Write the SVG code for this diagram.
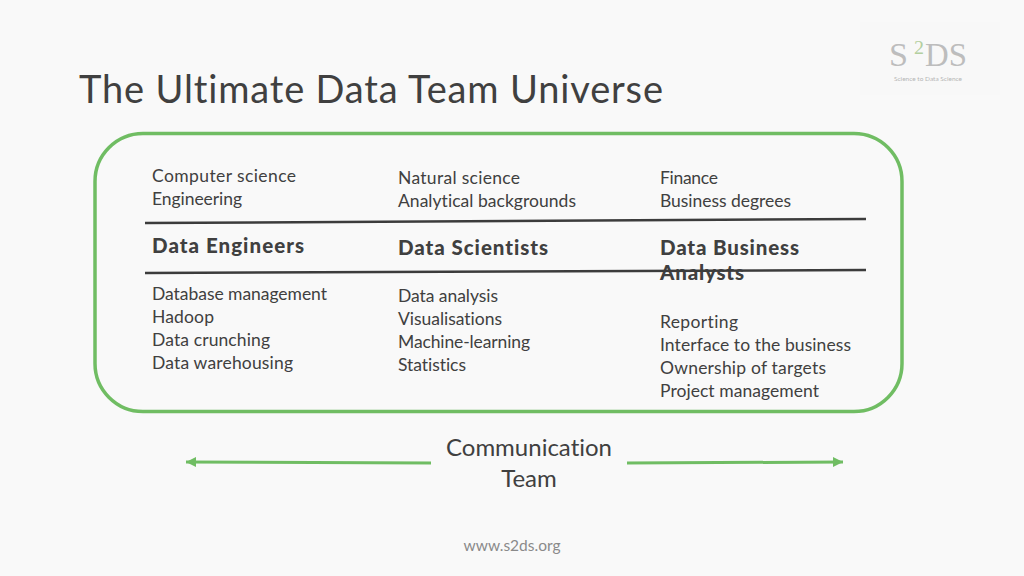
<svg xmlns="http://www.w3.org/2000/svg" width="1024" height="576" viewBox="0 0 1024 576">
<style>
text{font-family:Lato,"Open Sans","Liberation Sans",sans-serif;fill:#404040;font-variant-ligatures:none}
.b{font-size:17.500px}
.h{font-size:20.500px;font-weight:900}
.g{stroke:#70bd63;fill:none;stroke-linecap:butt}
.d{stroke:#3c3c3c;stroke-width:2.500;fill:none}
.l{font-family:"Liberation Serif",serif;font-size:34px;fill:#bdbdbd}
</style>
<defs>
<marker id="ah" markerUnits="userSpaceOnUse" markerWidth="11" markerHeight="11" refX="10" refY="5.500" orient="auto"><path d="M0 0.500L10 5.500L0 10.500Z" fill="#70bd63"/></marker>
</defs>
<rect width="1024" height="576" fill="#f9f9f9"/>
<g id="logo">
<rect x="860" y="22" width="140" height="73" fill="#f8f8f8"/>
<text class="l" x="889" y="66" textLength="19" lengthAdjust="spacingAndGlyphs">S</text>
<text class="l" x="925" y="66" textLength="42" lengthAdjust="spacingAndGlyphs">DS</text>
<text x="914" y="54" style="font-family:'Liberation Serif',serif;font-size:18px;fill:#b3cf9f" textLength="10" lengthAdjust="spacingAndGlyphs">2</text>
<text x="928" y="81" text-anchor="middle" style="font-size:6.500px;fill:#b5b5b5">Science to Data Science</text>
</g>
<text id="title" x="79" y="103" style="font-size:38px" textLength="584">The Ultimate Data Team Universe</text>
<g id="frame"><rect x="95" y="133.500" width="807" height="278" rx="48" ry="48" class="g" stroke-width="3.500"/></g>
<g id="col-engineers">
<text class="b" x="152" y="182" textLength="144">Computer science</text>
<text class="b" x="152" y="205" textLength="90">Engineering</text>
<text class="h" x="152" y="253" textLength="152">Data Engineers</text>
<text class="b" x="152" y="300" textLength="175">Database management</text>
<text class="b" x="152" y="323" textLength="62">Hadoop</text>
<text class="b" x="152" y="346" textLength="118">Data crunching</text>
<text class="b" x="152" y="369" textLength="141">Data warehousing</text>
</g>
<g id="col-scientists">
<text class="b" x="398" y="183.500" textLength="122">Natural science</text>
<text class="b" x="398" y="207" textLength="178">Analytical backgrounds</text>
<text class="h" x="398" y="254.500" textLength="150">Data Scientists</text>
<text class="b" x="398" y="301.500" textLength="100">Data analysis</text>
<text class="b" x="398" y="324.500" textLength="104">Visualisations</text>
<text class="b" x="398" y="347.500" textLength="132">Machine-learning</text>
<text class="b" x="398" y="370.500" textLength="68">Statistics</text>
</g>
<g id="col-business">
<text class="b" x="660" y="183.500" textLength="58">Finance</text>
<text class="b" x="660" y="207" textLength="131">Business degrees</text>
<text class="h" x="660" y="254.500" textLength="139">Data Business</text>
<text class="h" x="660" y="280" textLength="84">Analysts</text>
<text class="b" x="660" y="327.500" textLength="78">Reporting</text>
<text class="b" x="660" y="350.500" textLength="191">Interface to the business</text>
<text class="b" x="660" y="373.500" textLength="166">Ownership of targets</text>
<text class="b" x="660" y="396.500" textLength="159">Project management</text>
</g>
<g id="communication">
<text x="529" y="456" text-anchor="middle" style="font-size:24px">Communication</text>
<text x="529" y="487" text-anchor="middle" style="font-size:24px">Team</text>
</g>
<g id="connectors">
<path class="d" d="M145 223L866 219"/>
<path class="d" d="M145 273L866 270"/>
<path class="g" stroke-width="3" d="M431 463L186 462" marker-end="url(#ah)"/>
<path class="g" stroke-width="3" d="M627 463L843 462" marker-end="url(#ah)"/>
</g>
<text id="url" x="512" y="551" text-anchor="middle" style="font-size:15.500px;fill:#8a8a8a">www.s2ds.org</text>
</svg>
